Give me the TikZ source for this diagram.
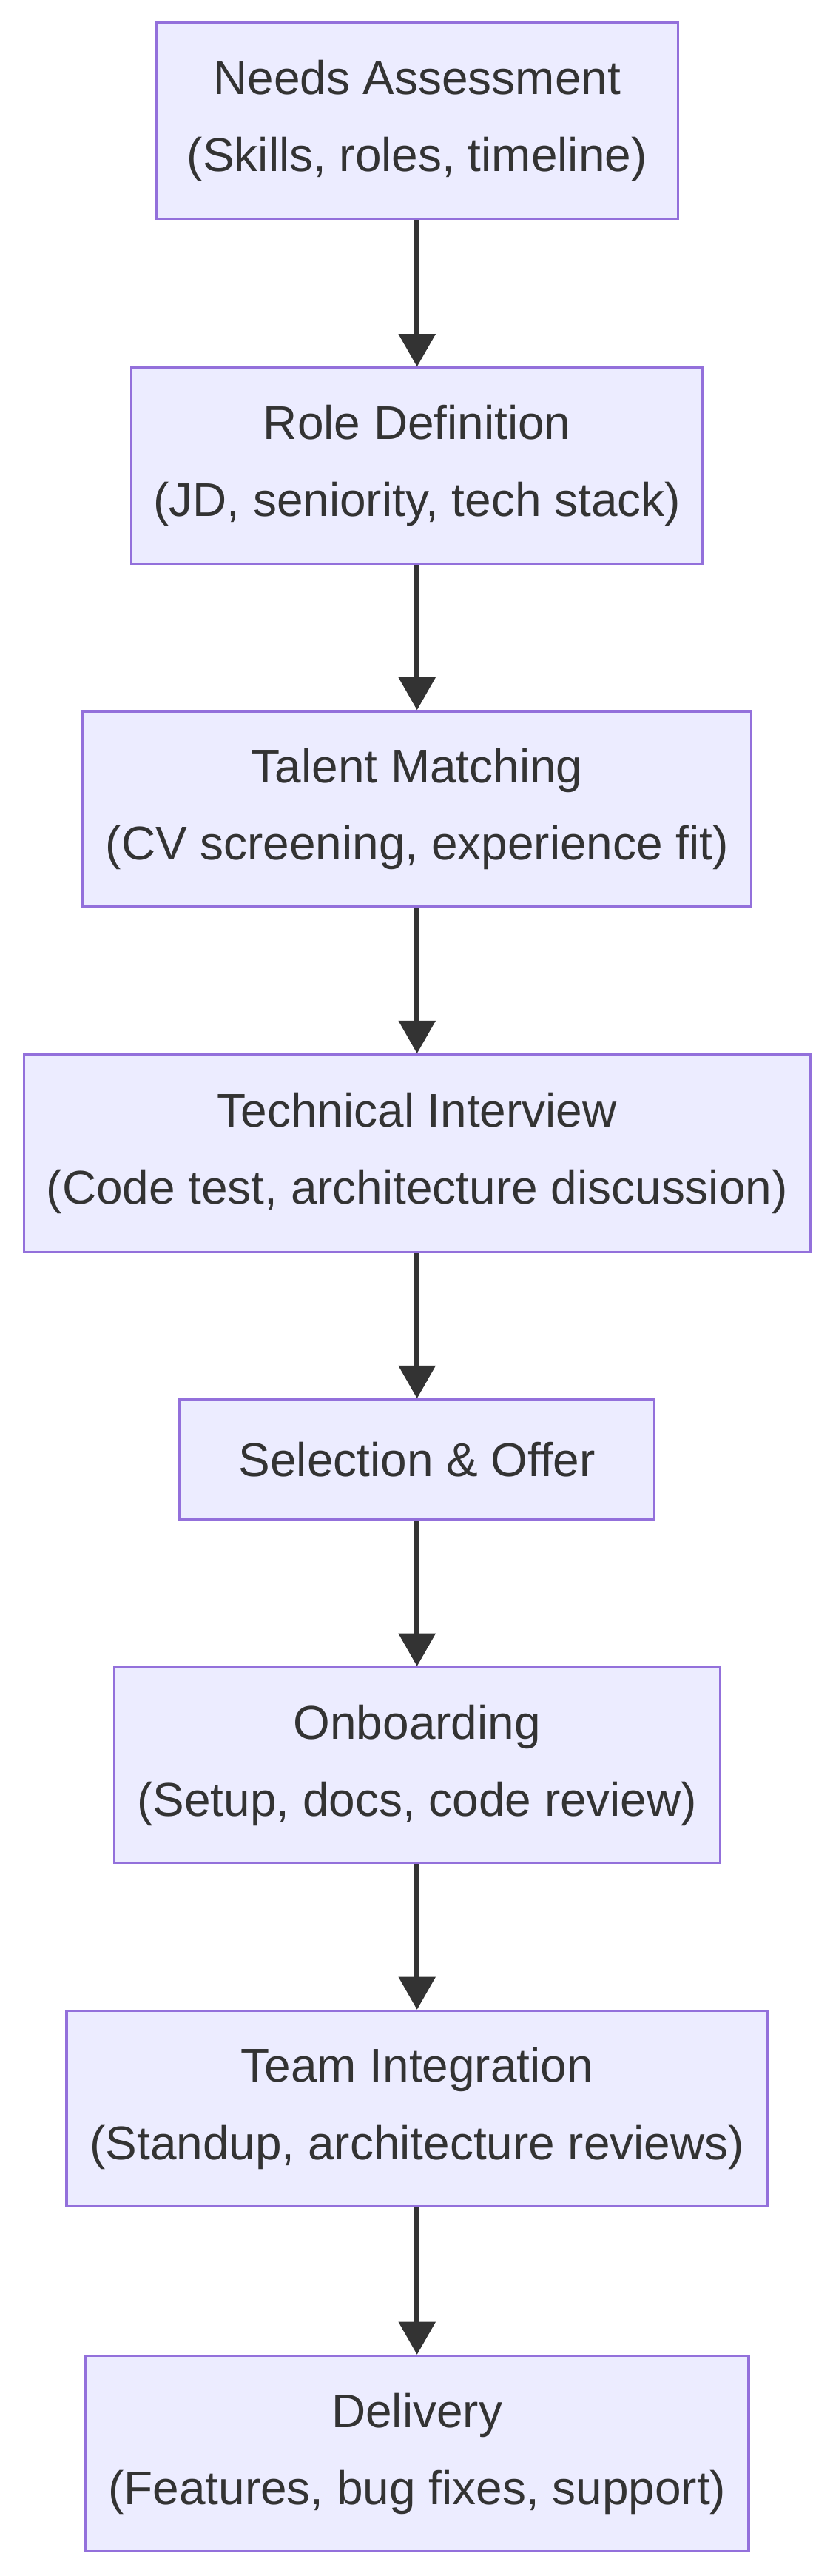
\documentclass[tikz,border=0pt]{standalone}
\usepackage{fontspec}
\setmainfont{Liberation Sans}
\usetikzlibrary{arrows.meta}
\definecolor{boxfill}{HTML}{ECECFF}
\definecolor{boxline}{HTML}{9370DB}
\definecolor{ink}{HTML}{333333}
\begin{document}
\begin{tikzpicture}[x=1pt,y=1pt,
    stage/.style={draw=boxline, fill=boxfill, line width=1.5pt, text=ink,
        align=center, inner sep=0pt, font=\fontsize{28.8}{47}\selectfont},
    flow/.style={draw=ink, line width=3pt, -{Triangle[width=22pt,length=20pt]}}]
    \useasboundingbox (0,0) rectangle (507,-1568);

    % Draw the steps
    \node[stage, minimum width=318, minimum height=119] (needs) at (254,-73.5)
        {Needs Assessment\\(Skills, roles, timeline)};
    \node[stage, minimum width=348, minimum height=119] (role) at (254,-283.5)
        {Role Definition\\(JD, seniority, tech stack)};
    \node[stage, minimum width=407, minimum height=119] (match) at (254,-492.5)
        {Talent Matching\\(CV screening, experience fit)};
    \node[stage, minimum width=479, minimum height=120] (interview) at (254,-702)
        {Technical Interview\\(Code test, architecture discussion)};
    \node[stage, minimum width=289, minimum height=73] (offer) at (254,-888.5)
        {Selection \& Offer};
    \node[stage, minimum width=369, minimum height=119] (onboard) at (254,-1074.5)
        {Onboarding\\(Setup, docs, code review)};
    \node[stage, minimum width=427, minimum height=119] (team) at (254,-1283.5)
        {Team Integration\\(Standup, architecture reviews)};
    \node[stage, minimum width=404, minimum height=119] (deliver) at (254,-1493.5)
        {Delivery\\(Features, bug fixes, support)};

    % Draw the connectors
    \foreach \a/\b in {needs/role, role/match, match/interview, interview/offer,
        offer/onboard, onboard/team, team/deliver}
        \draw[flow] (\a) -- (\b);
\end{tikzpicture}
\end{document}
